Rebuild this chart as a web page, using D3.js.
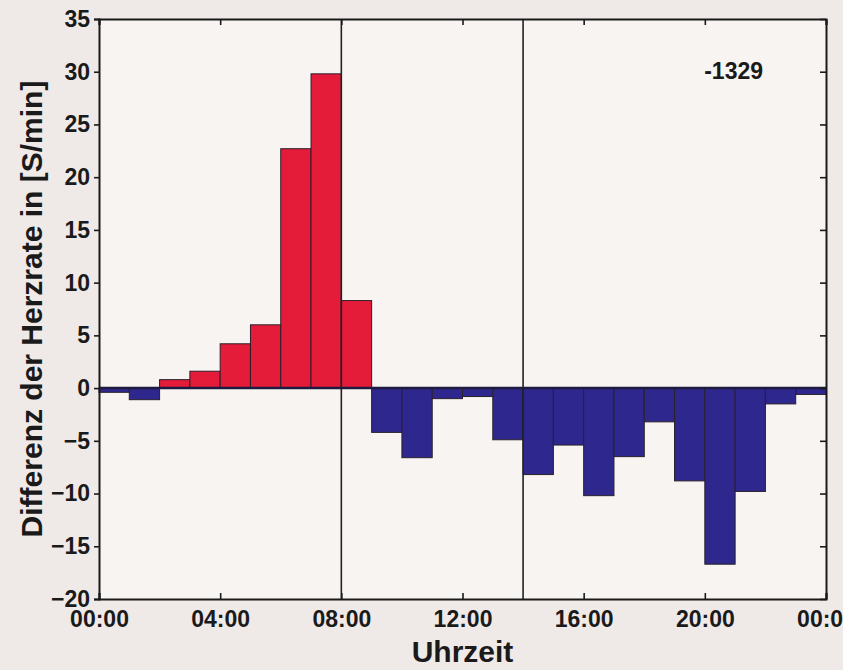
<!DOCTYPE html>
<html><head><meta charset="utf-8">
<script src="https://cdn.jsdelivr.net/npm/d3@7"></script>
<style>
html,body{margin:0;padding:0;background:#efe9e8;}
svg{display:block;font-family:"Liberation Sans",Arial,sans-serif;}
</style></head>
<body><svg id="c" width="843" height="670"></svg>
<script>
// Data: hourly bins (start hour) and difference of heart rate [S/min]
const hours = d3.range(0, 24);
const values = [-0.4, -1.1, 0.8, 1.6, 4.2, 6.0, 22.7, 29.8, 8.3, -4.2, -6.6, -1.0,
                -0.8, -4.9, -8.2, -5.4, -10.2, -6.5, -3.2, -8.8, -16.7, -9.8, -1.5, -0.6];
const xTickValues = [0, 4, 8, 12, 16, 20, 24];
const xTickLabels = ["00:00", "04:00", "08:00", "12:00", "16:00", "20:00", "00:00"];
const yTickValues = [-20, -15, -10, -5, 0, 5, 10, 15, 20, 25, 30, 35];
const markerLines = [8, 14];
const annotation = "-1329";
const xTitle = "Uhrzeit";
const yTitle = "Differenz der Herzrate in [S/min]";

const svg = d3.select("#c");
const L = 99, R = 826, T = 19, B = 599;
const x = d3.scaleLinear().domain([0, 24]).range([L, R]);
const y = d3.scaleLinear().domain([-20, 35]).range([B, T]);

// plot background
svg.append("rect").attr("x", L).attr("y", T).attr("width", R - L).attr("height", B - T)
  .attr("fill", "#f7f4f2");

// bars
svg.append("g").selectAll("rect").data(hours).join("rect")
  .attr("x", d => x(d))
  .attr("width", d => x(d + 1) - x(d))
  .attr("y", (d, i) => y(Math.max(0, values[i])))
  .attr("height", (d, i) => Math.abs(y(values[i]) - y(0)))
  .attr("fill", (d, i) => values[i] >= 0 ? "#e41c3a" : "#2e288e")
  .attr("stroke", "#2a1f2a").attr("stroke-width", 1);

// zero line
svg.append("line").attr("x1", L).attr("x2", R).attr("y1", y(0)).attr("y2", y(0))
  .attr("stroke", "#1e1a40").attr("stroke-width", 2.5);

// marker vertical lines
svg.append("g").selectAll("line").data(markerLines).join("line")
  .attr("x1", d => x(d)).attr("x2", d => x(d)).attr("y1", T).attr("y2", B)
  .attr("stroke", "#222").attr("stroke-width", 1.6);

// axes
const fontTick = "bold 23px 'Liberation Sans', Arial, sans-serif";
const axL = svg.append("g").attr("transform", `translate(${L},0)`)
  .call(d3.axisLeft(y).tickValues(yTickValues).tickSize(5).tickPadding(4).tickFormat(d3.format("d")));
const axR = svg.append("g").attr("transform", `translate(${R},0)`)
  .call(d3.axisLeft(y).tickValues(yTickValues).tickSize(-0).tickFormat(""));
axR.selectAll(".tick line").attr("x2", -6);
const axB = svg.append("g").attr("transform", `translate(0,${B})`)
  .call(d3.axisBottom(x).tickValues(xTickValues).tickSize(-6).tickPadding(12)
    .tickFormat((d, i) => xTickLabels[i]));
const axT = svg.append("g").attr("transform", `translate(0,${T})`)
  .call(d3.axisTop(x).tickValues(xTickValues).tickSize(-6).tickFormat(""));

[axL, axR, axB, axT].forEach(a => {
  a.select(".domain").attr("stroke", "#1a1a1a").attr("stroke-width", 2);
  a.selectAll(".tick line").attr("stroke", "#1a1a1a").attr("stroke-width", 1.6);
  a.selectAll("text").style("font", fontTick).attr("fill", "#1a1a1a");
});
axB.selectAll("text").attr("dy", "0.71em");

// annotation
svg.append("text").attr("x", x(20.95)).attr("y", y(29.3)).attr("text-anchor", "middle")
  .style("font", fontTick).attr("fill", "#1a1a1a").text(annotation);

// titles
svg.append("text").attr("x", (L + R) / 2).attr("y", 662).attr("text-anchor", "middle")
  .style("font", "bold 30px 'Liberation Sans', Arial, sans-serif").attr("fill", "#1a1a1a").text(xTitle);
svg.append("text").attr("transform", `translate(42,${(T + B) / 2}) rotate(-90)`)
  .attr("text-anchor", "middle")
  .style("font", "bold 30px 'Liberation Sans', Arial, sans-serif").attr("fill", "#1a1a1a").text(yTitle);
</script></body></html>
